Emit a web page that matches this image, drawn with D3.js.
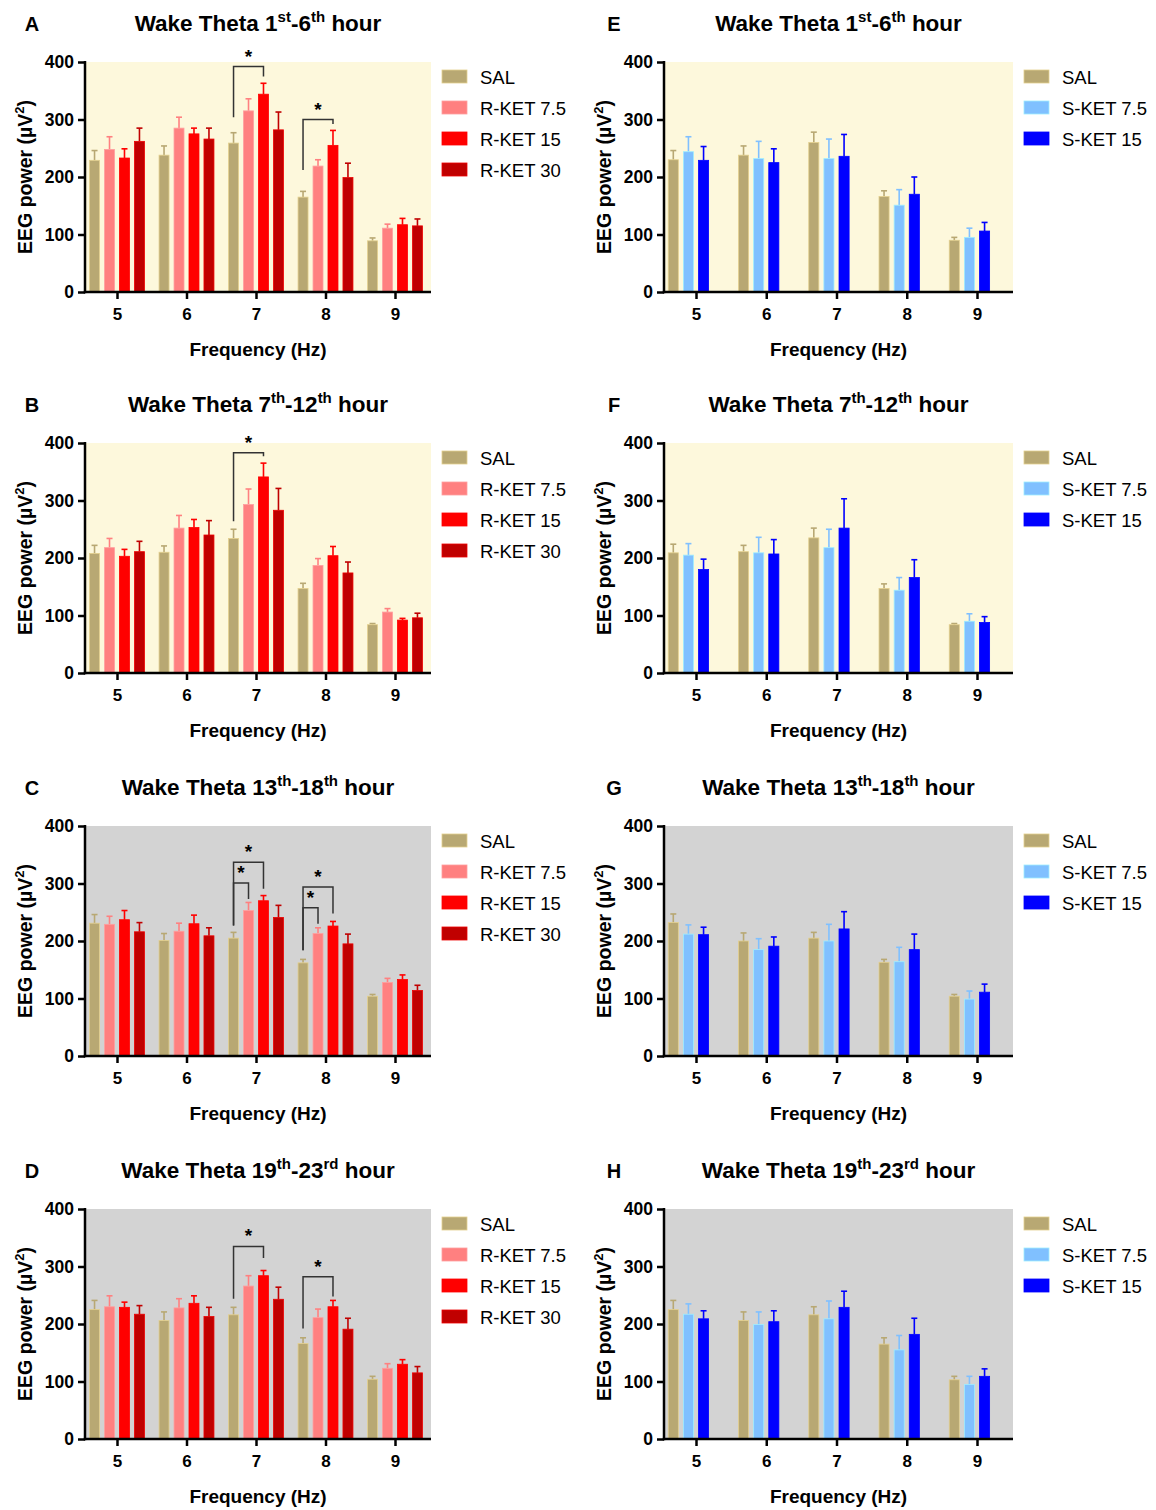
<html>
<head>
<script src="https://d3js.org/d3.v7.min.js"></script>
<style>
  body { margin: 0; background: #ffffff; }
  text { font-family: "Liberation Sans", Arial, Helvetica, sans-serif; }
</style>
</head>
<body>
<div id="chart"></div>
<script>
// ---- data ----
const freqs = [5, 6, 7, 8, 9];
const rKetGroups = ["SAL", "R-KET 7.5", "R-KET 15", "R-KET 30"];
const sKetGroups = ["SAL", "S-KET 7.5", "S-KET 15"];

// hour ranges for titles: [start, suffix, end, suffix]
const hoursRow1 = ["1", "st", "6", "th"];
const hoursRow2 = ["7", "th", "12", "th"];
const hoursRow3 = ["13", "th", "18", "th"];
const hoursRow4 = ["19", "th", "23", "rd"];

// mean values, one row per group, one column per frequency
const meanA = [[229, 238, 259, 165, 89], [248, 285, 315, 219, 111], [233, 275, 344, 255, 117], [262, 266, 282, 199, 115]];
const semA  = [[17, 16, 18, 10, 5], [22, 19, 21, 11, 7], [16, 10, 19, 26, 11], [23, 19, 31, 25, 12]];
const meanB = [[208, 210, 234, 147, 84], [218, 252, 293, 187, 106], [203, 253, 341, 204, 92], [211, 240, 283, 174, 96]];
const semB  = [[14, 11, 16, 9, 2], [16, 22, 27, 12, 6], [12, 14, 24, 16, 3], [18, 25, 38, 19, 8]];
const meanC = [[231, 201, 205, 162, 104], [229, 217, 253, 213, 128], [237, 230, 270, 226, 133], [216, 209, 241, 195, 114]];
const semC  = [[15, 12, 10, 6, 3], [14, 14, 14, 10, 7], [16, 15, 9, 8, 8], [16, 14, 21, 17, 9]];
const meanD = [[225, 206, 216, 166, 104], [230, 228, 266, 211, 123], [229, 236, 284, 230, 130], [217, 213, 243, 191, 115]];
const semD  = [[16, 15, 13, 10, 5], [19, 16, 18, 15, 8], [9, 13, 9, 11, 8], [15, 16, 21, 19, 11]];

const meanE = [[230, 238, 260, 166, 90], [244, 232, 232, 151, 95], [229, 225, 236, 170, 106]];
const semE  = [[16, 16, 18, 10, 5], [26, 30, 34, 27, 16], [24, 24, 38, 30, 15]];
const meanF = [[209, 211, 235, 147, 84], [205, 209, 218, 144, 90], [180, 207, 252, 166, 88]];
const semF  = [[15, 11, 17, 8, 2], [20, 27, 32, 22, 13], [18, 25, 51, 31, 10]];
const meanG = [[232, 200, 205, 163, 104], [212, 185, 200, 164, 99], [211, 191, 221, 185, 111]];
const semG  = [[15, 14, 10, 5, 3], [16, 19, 29, 25, 14], [13, 16, 30, 27, 14]];
const meanH = [[225, 206, 216, 165, 103], [217, 199, 209, 155, 95], [209, 204, 229, 182, 109]];
const semH  = [[16, 15, 14, 11, 6], [18, 22, 31, 25, 14], [14, 19, 28, 28, 13]];

// significance brackets: freq, from group, to group, bracket level, left/right leg ends
const sigA = [{ f: 7, a: 0, b: 2, y: 392, l: 304, r: 375 }, { f: 8, a: 0, b: 2, y: 300, l: 212, r: 292 }];
const sigB = [{ f: 7, a: 0, b: 2, y: 383, l: 264, r: 377 }];
const sigC = [{ f: 7, a: 0, b: 2, y: 337, l: 227, r: 291 }, { f: 7, a: 0, b: 1, y: 301, l: 227, r: 273 },
              { f: 8, a: 0, b: 2, y: 294, l: 184, r: 248 }, { f: 8, a: 0, b: 1, y: 258, l: 184, r: 230 }];
const sigD = [{ f: 7, a: 0, b: 2, y: 335, l: 244, r: 315 }, { f: 8, a: 0, b: 2, y: 282, l: 192, r: 248 }];

const rColors = ["#b8a873", "#ff8080", "#ff0000", "#c00000"];
const sColors = ["#b8a873", "#80c0ff", "#0000ff"];

// ---- layout ----
const W = 1156, H = 1510;
const colX = [{ x0: 85, x1: 431, letterX: 32 }, { x0: 664, x1: 1013, letterX: 614 }];
const rowY = [62, 443, 826, 1209];
const plotH = 230;

const panels = [
  { letter: "A", col: 0, row: 0, hours: hoursRow1, mean: meanA, sem: semA, groups: rKetGroups, colors: rColors, sig: sigA, bg: "#fdf8dc" },
  { letter: "B", col: 0, row: 1, hours: hoursRow2, mean: meanB, sem: semB, groups: rKetGroups, colors: rColors, sig: sigB, bg: "#fdf8dc" },
  { letter: "C", col: 0, row: 2, hours: hoursRow3, mean: meanC, sem: semC, groups: rKetGroups, colors: rColors, sig: sigC, bg: "#d3d3d3" },
  { letter: "D", col: 0, row: 3, hours: hoursRow4, mean: meanD, sem: semD, groups: rKetGroups, colors: rColors, sig: sigD, bg: "#d3d3d3" },
  { letter: "E", col: 1, row: 0, hours: hoursRow1, mean: meanE, sem: semE, groups: sKetGroups, colors: sColors, sig: [], bg: "#fdf8dc" },
  { letter: "F", col: 1, row: 1, hours: hoursRow2, mean: meanF, sem: semF, groups: sKetGroups, colors: sColors, sig: [], bg: "#fdf8dc" },
  { letter: "G", col: 1, row: 2, hours: hoursRow3, mean: meanG, sem: semG, groups: sKetGroups, colors: sColors, sig: [], bg: "#d3d3d3" },
  { letter: "H", col: 1, row: 3, hours: hoursRow4, mean: meanH, sem: semH, groups: sKetGroups, colors: sColors, sig: [], bg: "#d3d3d3" },
];

const svg = d3.select("#chart").append("svg")
  .attr("width", W).attr("height", H)
  .style("background", "#fff");

panels.forEach(p => {
  const { x0, x1, letterX } = colX[p.col];
  const top = rowY[p.row], bottom = top + plotH;
  const g = svg.append("g");

  const x = d3.scalePoint().domain(freqs).range([x0 + 32, x1 - 36]);
  const step = x.step();
  // 4 bar slots per frequency, S-KET panels just use the first 3
  const xs = d3.scaleBand().domain([0, 1, 2, 3]).range([-step * 0.395, step * 0.395]).paddingInner(1 / 3);
  const y = d3.scaleLinear().domain([0, 400]).range([bottom, top]);

  // background
  g.append("rect").attr("x", x0).attr("y", top).attr("width", x1 - x0).attr("height", plotH).attr("fill", p.bg);

  // bars + error bars
  p.groups.forEach((grp, gi) => {
    const col = p.colors[gi];
    const rows = freqs.map((f, fi) => ({ f, v: p.mean[gi][fi], e: p.sem[gi][fi] }));
    const cx = d => x(d.f) + xs(gi) + xs.bandwidth() / 2;

    g.selectAll(null).data(rows).enter().append("line")
      .attr("x1", cx).attr("x2", cx)
      .attr("y1", d => y(d.v)).attr("y2", d => y(d.v + d.e))
      .attr("stroke", col).attr("stroke-width", 1.6);
    g.selectAll(null).data(rows).enter().append("line")
      .attr("x1", d => cx(d) - 3).attr("x2", d => cx(d) + 3)
      .attr("y1", d => y(d.v + d.e)).attr("y2", d => y(d.v + d.e))
      .attr("stroke", col).attr("stroke-width", 1.6);

    g.selectAll(null).data(rows).enter().append("rect")
      .attr("x", d => x(d.f) + xs(gi))
      .attr("y", d => y(d.v))
      .attr("width", xs.bandwidth())
      .attr("height", d => bottom - y(d.v))
      .attr("fill", col)
      .attr("stroke", d3.color(col).brighter(0.6))
      .attr("stroke-width", 0.8);
  });

  // significance brackets
  p.sig.forEach(s => {
    const xa = x(s.f) + xs(s.a) + xs.bandwidth() / 2;
    const xb = x(s.f) + xs(s.b) + xs.bandwidth() / 2;
    g.append("path")
      .attr("d", `M${xa},${y(s.l)}V${y(s.y)}H${xb}V${y(s.r)}`)
      .attr("fill", "none").attr("stroke", "#333").attr("stroke-width", 1.5);
    g.append("text")
      .attr("x", (xa + xb) / 2).attr("y", y(s.y) - 4)
      .attr("text-anchor", "middle")
      .style("font-size", "19px").style("font-weight", "bold")
      .text("*");
  });

  // y axis
  const yAxis = d3.axisLeft(y).tickValues([0, 100, 200, 300, 400]).tickSize(7).tickPadding(4);
  const gy = g.append("g").attr("transform", `translate(${x0},0)`).call(yAxis);
  gy.select(".domain").remove();
  gy.selectAll(".tick line").attr("stroke", "#000").attr("stroke-width", 2.5);
  gy.selectAll(".tick text").style("font-size", "17.5px").style("font-weight", "bold").attr("fill", "#000");

  // x axis
  const xAxis = d3.axisBottom(x).tickSize(7).tickPadding(9);
  const gx = g.append("g").attr("transform", `translate(0,${bottom})`).call(xAxis);
  gx.select(".domain").remove();
  gx.selectAll(".tick line").attr("stroke", "#000").attr("stroke-width", 2.5);
  gx.selectAll(".tick text").style("font-size", "17px").style("font-weight", "bold").attr("fill", "#000");

  // axis lines
  g.append("line").attr("x1", x0).attr("x2", x0).attr("y1", top - 1).attr("y2", bottom + 1.25)
    .attr("stroke", "#000").attr("stroke-width", 2.5);
  g.append("line").attr("x1", x0 - 1.25).attr("x2", x1).attr("y1", bottom).attr("y2", bottom)
    .attr("stroke", "#000").attr("stroke-width", 2.5);

  // axis titles
  const yt = g.append("text")
    .attr("transform", `translate(${x0 - 53},${(top + bottom) / 2}) rotate(-90)`)
    .attr("text-anchor", "middle")
    .style("font-size", "19.5px").style("font-weight", "bold");
  yt.append("tspan").text("EEG power (µV");
  yt.append("tspan").attr("dy", -8).style("font-size", "13px").text("2");
  yt.append("tspan").attr("dy", 8).text(")");

  g.append("text")
    .attr("x", (x0 + x1) / 2).attr("y", bottom + 64)
    .attr("text-anchor", "middle")
    .style("font-size", "19px").style("font-weight", "bold")
    .text("Frequency (Hz)");

  // title
  const tt = g.append("text")
    .attr("x", (x0 + x1) / 2).attr("y", top - 31)
    .attr("text-anchor", "middle")
    .style("font-size", "22.5px").style("font-weight", "bold");
  tt.append("tspan").text("Wake Theta " + p.hours[0]);
  tt.append("tspan").attr("dy", -9).style("font-size", "15px").text(p.hours[1]);
  tt.append("tspan").attr("dy", 9).text("-" + p.hours[2]);
  tt.append("tspan").attr("dy", -9).style("font-size", "15px").text(p.hours[3]);
  tt.append("tspan").attr("dy", 9).text(" hour");

  // panel letter
  g.append("text")
    .attr("x", letterX).attr("y", top - 31)
    .attr("text-anchor", "middle")
    .style("font-size", "20px").style("font-weight", "bold")
    .text(p.letter);

  // legend
  const lg = g.append("g").attr("transform", `translate(${x1 + 11},${top + 15})`);
  p.groups.forEach((grp, gi) => {
    lg.append("rect").attr("x", 0).attr("y", gi * 31 - 7).attr("width", 25).attr("height", 13)
      .attr("fill", p.colors[gi])
      .attr("stroke", d3.color(p.colors[gi]).brighter(0.6)).attr("stroke-width", 0.8);
    lg.append("text").attr("x", 38).attr("y", gi * 31 + 7)
      .style("font-size", "18.5px")
      .text(grp);
  });
});
</script>
</body>
</html>
